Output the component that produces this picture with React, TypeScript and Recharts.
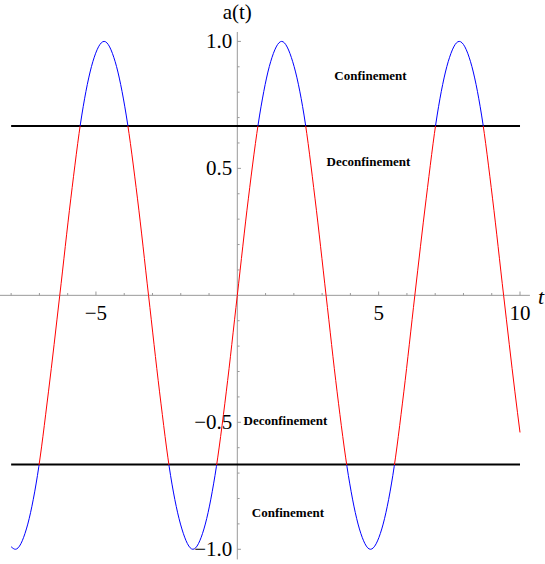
import React from 'react';
import { LineChart, Line, XAxis, YAxis, ReferenceLine, ReferenceDot } from 'recharts';

// Curve samples a(t)
const tValues = [
  -8.0, -7.85, -7.46, -7.07, -6.68, -6.28, -5.89, -5.5, -5.11, -4.71, -4.32, -3.93,
  -3.53, -3.14, -2.75, -2.36, -1.96, -1.57, -1.18, -0.79, -0.39, 0, 0.39, 0.79,
  1.18, 1.57, 1.96, 2.36, 2.75, 3.14, 3.53, 3.93, 4.32, 4.71, 5.11, 5.5,
  5.89, 6.28, 6.68, 7.07, 7.46, 7.85, 8.25, 8.64, 9.03, 9.42, 9.82, 10.0,
];
const aValues = [
  -0.99, -1, -0.92, -0.71, -0.38, 0, 0.38, 0.71, 0.92, 1, 0.92, 0.71,
  0.38, 0, -0.38, -0.71, -0.92, -1, -0.92, -0.71, -0.38, 0, 0.38, 0.71,
  0.92, 1, 0.92, 0.71, 0.38, 0, -0.38, -0.71, -0.92, -1, -0.92, -0.71,
  -0.38, 0, 0.38, 0.71, 0.92, 1, 0.92, 0.71, 0.38, 0, -0.38, -0.54,
];

const THRESHOLD = 2 / 3;
const T_START = -8.0;
const T_END = 10.0;

const xMajorTicks = [-5, 5, 10];
const xTickLabels = ['\u22125', '5', '10'];
const xMinorTicks = [-8, -7, -6, -4, -3, -2, -1, 1, 2, 3, 4, 6, 7, 8, 9];
const yMajorTicks = [-1.0, -0.5, 0.5, 1.0];
const yTickLabels = ['\u22121.0', '\u22120.5', '0.5', '1.0'];
const yMinorTicks = [-0.9, -0.8, -0.7, -0.6, -0.4, -0.3, -0.2, -0.1, 0.1, 0.2, 0.3, 0.4, 0.6, 0.7, 0.8, 0.9];

const annotationTexts = ['Confinement', 'Deconfinement', 'Deconfinement', 'Confinement'];
const annotationT = [4.71, 4.64, 1.705, 1.79];
const annotationA = [0.865, 0.526, -0.494, -0.856];

const X_DOMAIN: [number, number] = [-8.394, 10.884];
const Y_DOMAIN: [number, number] = [-1.058, 1.163];

const data = tValues.map((t, i) => ({ t, a: aValues[i] }));

const FONT = '"Liberation Serif", "Times New Roman", serif';
const AXIS_COLOR = '#999999';

// gradient stop offsets in the curve's bounding box (a from +1 at top to -1 at bottom)
const upperOffset = (1 - THRESHOLD) / 2;
const lowerOffset = (1 + THRESHOLD) / 2;

export default function App() {
  return (
    <div style={{ position: 'absolute', left: 0, top: 0, width: 545, height: 564, background: '#fff' }}>
      <LineChart width={545} height={564} data={data} margin={{ top: 0, right: 0, bottom: 0, left: 0 }}>
        <defs>
          <linearGradient id="confGrad" x1="0" y1="0" x2="0" y2="1">
            <stop offset={0} stopColor="#0000ff" />
            <stop offset={upperOffset} stopColor="#0000ff" />
            <stop offset={upperOffset} stopColor="#ff0000" />
            <stop offset={lowerOffset} stopColor="#ff0000" />
            <stop offset={lowerOffset} stopColor="#0000ff" />
            <stop offset={1} stopColor="#0000ff" />
          </linearGradient>
        </defs>
        <XAxis dataKey="t" type="number" domain={X_DOMAIN} allowDataOverflow hide />
        <YAxis type="number" domain={Y_DOMAIN} allowDataOverflow hide />

        {/* axes through origin */}
        <ReferenceLine
          segment={[{ x: X_DOMAIN[0], y: 0 }, { x: 10.35, y: 0 }]}
          stroke={AXIS_COLOR}
          strokeWidth={1}
        />
        <ReferenceLine
          segment={[{ x: 0, y: 1.037 }, { x: 0, y: -1.04 }]}
          stroke={AXIS_COLOR}
          strokeWidth={1}
        />
        {xMajorTicks.map((v) => (
          <ReferenceLine key={'xM' + v} segment={[{ x: v, y: 0 }, { x: v, y: 0.015 }]} stroke={AXIS_COLOR} />
        ))}
        {xMinorTicks.map((v) => (
          <ReferenceLine key={'xm' + v} segment={[{ x: v, y: 0 }, { x: v, y: 0.009 }]} stroke={AXIS_COLOR} />
        ))}
        {yMajorTicks.map((v) => (
          <ReferenceLine key={'yM' + v} segment={[{ x: 0, y: v }, { x: 0.13, y: v }]} stroke={AXIS_COLOR} />
        ))}
        {yMinorTicks.map((v) => (
          <ReferenceLine key={'ym' + v} segment={[{ x: 0, y: v }, { x: 0.08, y: v }]} stroke={AXIS_COLOR} />
        ))}

        {xMajorTicks.map((v, i) => (
          <ReferenceDot
            key={'xl' + v}
            x={v}
            y={0}
            shape={(p: any) => (
              <text x={p.cx} y={p.cy + 25} textAnchor="middle" fontFamily={FONT} fontSize={21} fill="#000">
                {xTickLabels[i]}
              </text>
            )}
          />
        ))}
        {yMajorTicks.map((v, i) => (
          <ReferenceDot
            key={'yl' + v}
            x={0}
            y={v}
            shape={(p: any) => (
              <text x={p.cx - 5} y={p.cy + 7} textAnchor="end" fontFamily={FONT} fontSize={21} fill="#000">
                {yTickLabels[i]}
              </text>
            )}
          />
        ))}

        <ReferenceDot
          x={0}
          y={1}
          shape={(p: any) => (
            <text x={p.cx} y={p.cy - 22} textAnchor="middle" fontFamily={FONT} fontSize={21} fill="#000">
              a(t)
            </text>
          )}
        />
        <ReferenceDot
          x={10}
          y={0}
          shape={(p: any) => (
            <text x={p.cx + 21} y={p.cy + 9} textAnchor="middle" fontFamily={FONT} fontSize={22} fontStyle="italic" fill="#000">
              t
            </text>
          )}
        />

        <ReferenceLine
          segment={[{ x: T_START, y: THRESHOLD }, { x: T_END, y: THRESHOLD }]}
          stroke="#000"
          strokeWidth={2}
        />
        <ReferenceLine
          segment={[{ x: T_START, y: -THRESHOLD }, { x: T_END, y: -THRESHOLD }]}
          stroke="#000"
          strokeWidth={2}
        />

        <Line
          type="monotone"
          dataKey="a"
          stroke="url(#confGrad)"
          strokeWidth={1}
          dot={false}
          activeDot={false}
          isAnimationActive={false}
        />

        {annotationTexts.map((txt, i) => (
          <ReferenceDot
            key={'ann' + i}
            x={annotationT[i]}
            y={annotationA[i]}
            shape={(p: any) => (
              <text
                x={p.cx}
                y={p.cy + 4.5}
                textAnchor="middle"
                fontFamily={FONT}
                fontSize={13}
                fontWeight="bold"
                fill="#000"
              >
                {txt}
              </text>
            )}
          />
        ))}
      </LineChart>
    </div>
  );
}
